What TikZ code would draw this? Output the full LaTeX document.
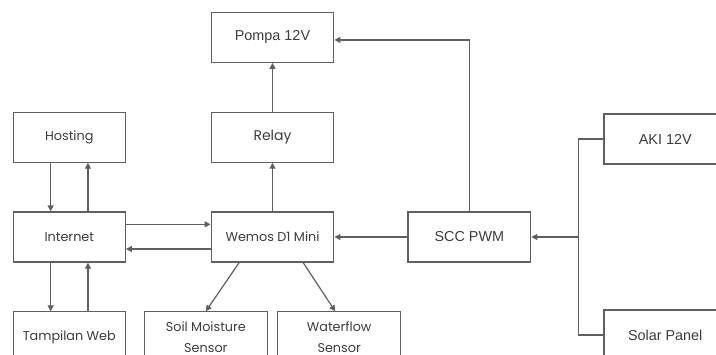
\documentclass[tikz,border=0pt]{standalone}
\usepackage{fontspec}
\setmainfont{Poppins}
\newfontfamily\arialfont{Liberation Sans}
\usetikzlibrary{positioning,arrows.meta}
\definecolor{linegray}{RGB}{95,95,95}
\definecolor{textgray}{RGB}{60,60,60}

\begin{document}
\begin{tikzpicture}[x=0.75pt, y=-0.75pt, node distance=36.5pt and 63.5pt,
  box/.style={rectangle, draw=linegray, line width=0.9pt, minimum width=84pt, minimum height=37.5pt, align=center, text=textgray, font=\fontsize{9.6}{15.5}\selectfont},
  wide/.style={box, minimum width=92pt},
  arialbox/.style={wide, font=\arialfont\fontsize{10.8}{12}\selectfont},
  arr/.style={-{Triangle[length=4.5pt,width=4.5pt]}, draw=linegray, line width=0.9pt},
  wire/.style={draw=linegray, line width=0.9pt}]
  \useasboundingbox (0,0) rectangle (716,354);
  \clip (0,0) rectangle (716,354);

  % control part
  \node[wide] (wemos) at (272.5,237) {Wemos D1 Mini};
  \node[wide, above=of wemos, font=\fontsize{10.5}{12}\selectfont] (relay) {Relay};
  \node[arialbox, above=of relay] (pompa) {Pompa 12V};
  \node[box, left=of wemos] (internet) {Internet};
  \node[box, above=of internet] (hosting) {Hosting};
  \node[box, below=of internet] (tampilan) {Tampilan Web};
  \node[wide, below=of wemos, xshift=-50pt] (soil) {Soil Moisture\\Sensor};
  \node[wide, below=of wemos, xshift=50pt] (waterflow) {Waterflow\\Sensor};

  % power part
  \node[arialbox, right=54.75pt of wemos] (scc) {SCC PWM};
  \node[arialbox, right=54pt of scc, yshift=73.5pt] (aki) {AKI 12V};
  \node[arialbox, right=54pt of scc, yshift=-73.5pt] (solar) {Solar Panel};
  \coordinate (bus) at ([xshift=-18.75pt]aki.west |- scc.east);

  \draw[arr] (relay) -- (pompa);
  \draw[arr] (wemos) -- (relay);
  \draw[arr] (scc.north) |- ([yshift=-2pt]pompa.east);
  \draw[arr] (scc) -- (wemos);
  \draw[wire] (aki.west) -| (bus);
  \draw[wire] (solar.west) -| (bus);
  \draw[arr] (bus) -- (scc.east);

  \draw[arr] ([xshift=-14pt]hosting.south) -- ([xshift=-14pt]internet.north);
  \draw[arr] ([xshift=14pt]internet.north) -- ([xshift=14pt]hosting.south);
  \draw[arr] ([xshift=-14pt]internet.south) -- ([xshift=-14pt]tampilan.north);
  \draw[arr] ([xshift=14pt]tampilan.north) -- ([xshift=14pt]internet.south);
  \draw[arr] ([yshift=9.5pt]internet.east) -- ([yshift=9.5pt]wemos.west);
  \draw[arr] ([yshift=-9pt]wemos.west) -- ([yshift=-9pt]internet.east);

  \draw[arr] ([xshift=-25pt]wemos.south) -- (soil.north);
  \draw[arr] ([xshift=23pt]wemos.south) -- ([xshift=-3pt]waterflow.north);
\end{tikzpicture}
\end{document}
